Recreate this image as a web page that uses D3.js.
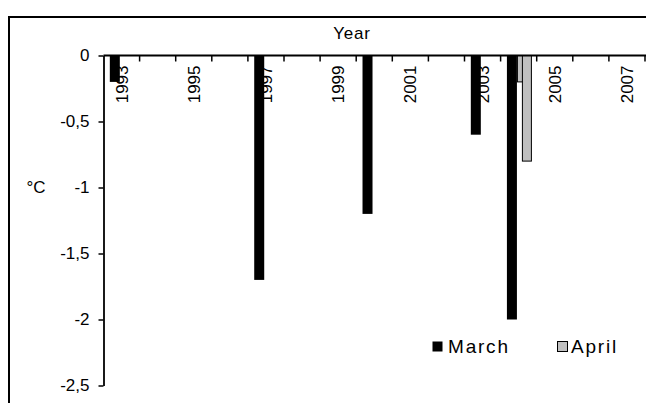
<!DOCTYPE html>
<html>
<head>
<meta charset="utf-8">
<script src="https://cdn.jsdelivr.net/npm/d3@7"></script>
<style>
  html, body { margin: 0; padding: 0; background: #fff; }
  svg text { font-family: "Liberation Sans", Arial, sans-serif; fill: #000; }
</style>
</head>
<body>
<svg id="chart" width="646" height="403"></svg>
<script>
// Temperature anomalies (°C) per year, March and April
const years = [1993, 1994, 1995, 1996, 1997, 1998, 1999, 2000, 2001, 2002, 2003, 2004, 2005, 2006, 2007];
const marchValues = [-0.2, null, null, null, -1.7, null, null, -1.2, null, null, -0.6, -2.0, null, null, null];
const aprilEarlyValues = [null, null, null, null, null, null, null, null, null, null, null, -0.2, null, null, null];
const aprilValues = [null, null, null, null, null, null, null, null, null, null, null, -0.8, null, null, null];
const yTicks = [0, -0.5, -1, -1.5, -2, -2.5];
const yearLabels = [1993, 1995, 1997, 1999, 2001, 2003, 2005, 2007];
const seriesNames = ["March", "April"];

const svg = d3.select("#chart");
const fontSize = 17;
const legendFontSize = 19;

// outer frame
svg.append("rect")
  .attr("x", 9).attr("y", 17)
  .attr("width", 660).attr("height", 420)
  .attr("fill", "none").attr("stroke", "#000").attr("stroke-width", 2);

const x = d3.scaleBand().domain(years).range([103.5, 645]).padding(0);
const y = d3.scaleLinear().domain([0, -2.5]).range([55.5, 385.5]);
const bw = x.bandwidth();

const commaFmt = d3.formatLocale({ decimal: ",", thousands: ".", grouping: [3], currency: ["", ""] }).format("");

// y axis
const yAxis = svg.append("g")
  .attr("transform", `translate(${x.range()[0]},0)`)
  .call(d3.axisLeft(y).tickValues(yTicks).tickFormat(d => commaFmt(d).replace("−", "-")).tickSize(5).tickSizeOuter(0).tickPadding(9));
yAxis.select(".domain").attr("stroke", "#000").attr("stroke-width", 1.8);
yAxis.selectAll(".tick line").attr("stroke", "#000").attr("stroke-width", 1.5);
yAxis.selectAll(".tick text").attr("font-size", fontSize).attr("font-family", "Liberation Sans, Arial, sans-serif");

svg.append("text")
  .attr("x", 36).attr("y", y(-1))
  .attr("dy", "0.35em").attr("text-anchor", "middle")
  .attr("font-size", fontSize)
  .text("°C");

// bars
const slots = [
  { values: marchValues, offset: 0.175, fill: "#000", stroke: "none" },
  { values: aprilEarlyValues, offset: 0.452, fill: "#c0c0c0", stroke: "#000" },
  { values: aprilValues, offset: 0.59, fill: "#c0c0c0", stroke: "#000" }
];
const barW = bw * 0.277;
slots.forEach(s => {
  svg.append("g").selectAll("rect")
    .data(years.map((yr, i) => ({ yr, v: s.values[i] })).filter(d => d.v != null))
    .join("rect")
    .attr("x", d => x(d.yr) + bw * s.offset + (s.stroke === "none" ? 0 : 0.5))
    .attr("y", y(0))
    .attr("width", s.stroke === "none" ? barW : barW - 1)
    .attr("height", d => y(d.v) - y(0))
    .attr("fill", s.fill)
    .attr("stroke", s.stroke)
    .attr("stroke-width", 1);
});

// x axis along the zero line, ticks between categories
const xg = svg.append("g");
xg.append("line")
  .attr("x1", x.range()[0]).attr("x2", 646)
  .attr("y1", y(0)).attr("y2", y(0))
  .attr("stroke", "#000").attr("stroke-width", 1.8);
const bounds = years.map(d => x(d)).concat([x.range()[1]]).slice(1);
xg.selectAll("line.tk").data(bounds).join("line").attr("class", "tk")
  .attr("x1", d => d).attr("x2", d => d)
  .attr("y1", y(0)).attr("y2", y(0) + 6)
  .attr("stroke", "#000").attr("stroke-width", 1.5);
xg.selectAll("text.yl").data(yearLabels).join("text").attr("class", "yl")
  .attr("transform", d => `translate(${x(d) + bw / 2},${y(0) + 10}) rotate(-90)`)
  .attr("text-anchor", "end").attr("dy", "0.35em")
  .attr("font-size", fontSize)
  .text(d => d);

svg.append("text")
  .attr("x", 352).attr("y", 39)
  .attr("text-anchor", "middle")
  .attr("font-size", fontSize)
  .attr("letter-spacing", 0.8)
  .text("Year");

// legend
const legend = svg.append("g");
const legendItems = [
  { name: seriesNames[0], fill: "#000", stroke: "none", x: 432, tx: 448 },
  { name: seriesNames[1], fill: "#c0c0c0", stroke: "#000", x: 557, tx: 571 }
];
legendItems.forEach(it => {
  legend.append("rect")
    .attr("x", it.x + 0.5).attr("y", 341.5)
    .attr("width", 10).attr("height", 10)
    .attr("fill", it.fill).attr("stroke", it.stroke);
  legend.append("text")
    .attr("x", it.tx).attr("y", 346.5).attr("dy", "0.35em")
    .attr("font-size", legendFontSize)
    .attr("letter-spacing", 1.8)
    .text(it.name);
});
</script>
</body>
</html>
